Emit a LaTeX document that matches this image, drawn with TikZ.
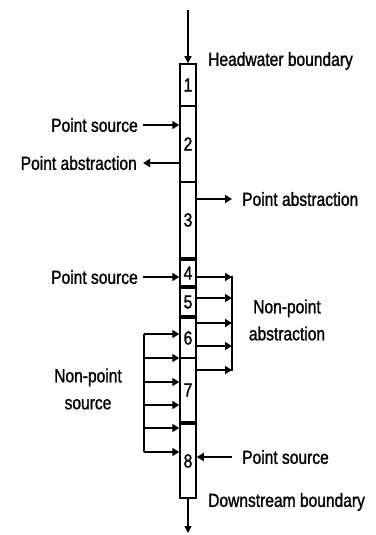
\documentclass[tikz,border=0pt]{standalone}
\usepackage{fontspec}
\setmainfont{Liberation Sans}[FakeStretch=0.82, FakeBold=1.2]
\usetikzlibrary{arrows.meta, positioning}

\tikzset{
  seg/.style={draw, line width=1.5pt, minimum width=16pt, inner sep=0pt,
    font=\fontsize{19}{19}\selectfont},
  lbl/.style={inner sep=0pt, text height=13.7pt, text depth=0pt,
    font=\fontsize{19}{27}\selectfont},
  twoline/.style={inner sep=0pt, align=center, font=\fontsize{19}{27}\selectfont},
  flow/.style={line width=2.3pt, -{Triangle[length=7pt,width=8pt]}},
  stem/.style={line width=1.4pt, -{Triangle[length=7pt,width=7pt]}},
}

\begin{document}
\begin{tikzpicture}[x=1pt,y=-1pt]
\useasboundingbox (0,0) rectangle (375,535);

% river segments
\node[seg, minimum height=42pt] (b1) at (188,85)  {1};
\node[seg, minimum height=76pt] (b2) at (188,144) {2};
\node[seg, minimum height=76pt] (b3) at (188,220) {3};
\node[seg, minimum height=26pt] (b4) at (188,273) {4};
\node[seg, minimum height=28pt] (b5) at (188,302) {5};
\node[seg, minimum height=40pt] (b6) at (188,338) {6};
\node[seg, minimum height=64pt] (b7) at (188,390) {7};
\node[seg, minimum height=74pt] (b8) at (188,461) {8};

% labels
\node[lbl, anchor=west] (hw)  at (208,59)  {Headwater boundary};
\node[lbl, anchor=east] (ps1) at (138,125) {Point source};
\node[lbl, anchor=east] (pa1) at (137,163) {Point abstraction};
\node[lbl, anchor=west] (pa2) at (242,199) {Point abstraction};
\node[lbl, anchor=east] (ps2) at (138,277) {Point source};
\node[twoline] (npa) at (287,320) {Non-point\\abstraction};
\node[twoline] (nps) at (88,389) {Non-point\\source};
\node[lbl, anchor=west] (ps3) at (242,457) {Point source};
\node[lbl, anchor=west] (ds)  at (208,500) {Downstream boundary};

% inflow and outflow
\coordinate (in)  at (188,10);
\coordinate (out) at (188,533);
\draw[stem] (in) -- (b1.north);
\draw[stem] (b8.south) -- (out);

% point loads
\draw[flow] ([xshift=5pt]ps1.east) -- (ps1.east -| b2.west);
\draw[flow] (pa1.east -| b2.west) -- ([xshift=6pt]pa1.east);
\draw[flow] (pa2.west -| b3.east) -- ([xshift=-10pt]pa2.west);
\draw[flow] ([xshift=5pt]ps2.east) -- (ps2.east -| b4.west);
\draw[flow] ([xshift=-10pt]ps3.west) -- (ps3.west -| b8.east);

% non-point abstraction
\coordinate (ra) at (232,276);
\coordinate (rb) at (232,371);
\draw[line width=1.5pt] (ra) -- (rb);
\foreach \y/\b in {277/b4, 298/b5, 323/b6, 346/b6, 370/b7}
  \draw[flow] (\b.east |- 0,\y) -- (ra |- 0,\y);

% non-point source
\coordinate (la) at (144,334);
\coordinate (lb) at (144,452);
\draw[line width=1.8pt] (la) -- (lb);
\foreach \y/\b in {334/b6, 358/b7, 382/b7, 405/b7, 428/b8, 452/b8}
  \draw[flow] (la |- 0,\y) -- (\b.west |- 0,\y);
\end{tikzpicture}
\end{document}
